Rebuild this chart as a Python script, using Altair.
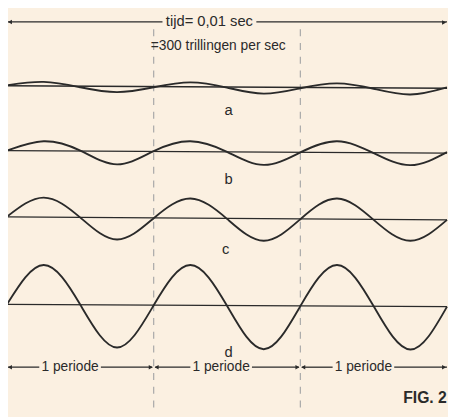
import altair as alt
import pandas as pd

# x in periods (0..3), y in figure units (downwards, 0 = top of figure)
xq = [0, 0.25, 0.5, 0.75, 1, 1.25, 1.5, 1.75, 2, 2.25, 2.5, 2.75, 3]
wave_a = [83, 79.5, 85, 90, 85, 80, 85.3, 91.5, 86, 81, 86.5, 92.3, 85]
wave_b = [149.5, 140, 149.5, 163.5, 150, 140, 150.7, 164, 151.3, 140, 152, 164.3, 151]
wave_c = [216.7, 197.3, 217.7, 240, 218.3, 198.3, 219, 241.3, 219.3, 198.3, 220, 241.3, 220]
wave_d = [306, 266, 306.5, 350, 307, 266, 307.5, 351.7, 307.8, 266, 308, 352, 308.3]
baselines = {"a": (83.5, 86), "b": (149.5, 152), "c": (217, 220), "d": (306, 308.3)}
wave_labels = ["a", "b", "c", "d"]
label_x = [1.51, 1.51, 1.49, 1.51]
label_y = [108, 178, 250, 355]

top_text = ["tijd= 0,01 sec", "=300 trillingen per sec"]
top_text_x = [1.38, 1.44]
top_text_y = [17.5, 43]
top_segments = [(0.0, 1.06), (1.70, 3.0)]
top_y = 18.5

period_text = ["1 periode", "1 periode", "1 periode"]
period_x = [0.43, 1.46, 2.43]
period_y = 370
bottom_segments = [(0.0, 0.22), (0.64, 0.99), (1.01, 1.25), (1.67, 1.99), (2.01, 2.22), (2.64, 3.0)]
divider_x = [0, 1, 2]

INK = "#2a2a2a"
BG = "#fbf0e1"
FONT = "Liberation Sans Narrow, Liberation Sans, sans-serif"

xs = alt.Scale(domain=[0.0067, 3.0067])
ys = alt.Scale(domain=[417, 8])
X = lambda f: alt.X(f, type="quantitative", scale=xs, axis=None)
Y = lambda f: alt.Y(f, type="quantitative", scale=ys, axis=None)

rows = []
for name, vals in zip(wave_labels, [wave_a, wave_b, wave_c, wave_d]):
    for x, y in zip(xq, vals):
        rows.append({"wave": name, "x": x, "y": y})
waves_df = pd.DataFrame(rows)

base_rows = []
for name, (y0, y1) in baselines.items():
    base_rows.append({"wave": name, "x": 0, "y": y0})
    base_rows.append({"wave": name, "x": 3, "y": y1})
base_df = pd.DataFrame(base_rows)

seg_rows = []
for i, (a, b) in enumerate(top_segments):
    seg_rows.append({"seg": f"t{i}", "x": a, "y": top_y})
    seg_rows.append({"seg": f"t{i}", "x": b, "y": top_y})
for i, (a, b) in enumerate(bottom_segments):
    seg_rows.append({"seg": f"b{i}", "x": a, "y": period_y})
    seg_rows.append({"seg": f"b{i}", "x": b, "y": period_y})
seg_df = pd.DataFrame(seg_rows)

arrow_df = pd.DataFrame({
    "x": [0.02, 2.98, 0.02, 0.98, 1.02, 1.98, 2.02, 2.98],
    "y": [top_y, top_y + 0.5, period_y, period_y, period_y, period_y, period_y, period_y],
    "dir": ["triangle-left", "triangle-right", "triangle-left", "triangle-right",
            "triangle-left", "triangle-right", "triangle-left", "triangle-right"],
})

div_df = pd.DataFrame({"x": divider_x, "y": [26, 26, 26], "y2": [405, 417, 417]})

waves = alt.Chart(waves_df).mark_line(interpolate="natural", color=INK, strokeWidth=1.9).encode(
    x=X("x"), y=Y("y"), detail="wave:N")
bases = alt.Chart(base_df).mark_line(color=INK, strokeWidth=1.4).encode(
    x=X("x"), y=Y("y"), detail="wave:N")
segs = alt.Chart(seg_df).mark_line(color=INK, strokeWidth=1.3).encode(
    x=X("x"), y=Y("y"), detail="seg:N")
arrows = alt.Chart(arrow_df).mark_point(filled=True, color=INK, size=22, opacity=1).encode(
    x=X("x"), y=Y("y"), shape=alt.Shape("dir:N", scale=None, legend=None))
dividers = alt.Chart(div_df).mark_rule(color="#a8a8a8", strokeWidth=1.2, strokeDash=[7, 7]).encode(
    x=X("x"), y=Y("y"), y2="y2")

lab_df = pd.DataFrame({"t": wave_labels, "x": label_x, "y": label_y})
labels = alt.Chart(lab_df).mark_text(font=FONT, fontSize=15, color=INK).encode(
    x=X("x"), y=Y("y"), text="t:N")

top_df = pd.DataFrame({"t": top_text, "x": top_text_x, "y": top_text_y, "s": [15, 14]})
tops = alt.Chart(top_df).mark_text(font=FONT, color=INK).encode(
    x=X("x"), y=Y("y"), text="t:N", size=alt.Size("s:Q", scale=None, legend=None))

per_df = pd.DataFrame({"t": period_text, "x": period_x, "y": [period_y] * 3})
pers = alt.Chart(per_df).mark_text(font=FONT, fontSize=14, color=INK).encode(
    x=X("x"), y=Y("y"), text="t:N")

fig_df = pd.DataFrame({"t": ["FIG. 2"], "x": [2.85], "y": [401]})
fig = alt.Chart(fig_df).mark_text(font=FONT, fontSize=16, fontWeight="bold", color=INK).encode(
    x=X("x"), y=Y("y"), text="t:N")

chart = alt.layer(dividers, bases, waves, segs, arrows, labels, tops, pers, fig).properties(
    width=448, height=409, autosize=alt.AutoSizeParams(type="none"), padding=0,
    background=BG,
).configure_view(stroke=None, fill=BG)

chart.save("out.html", embed_options={"renderer": "svg", "actions": False})
